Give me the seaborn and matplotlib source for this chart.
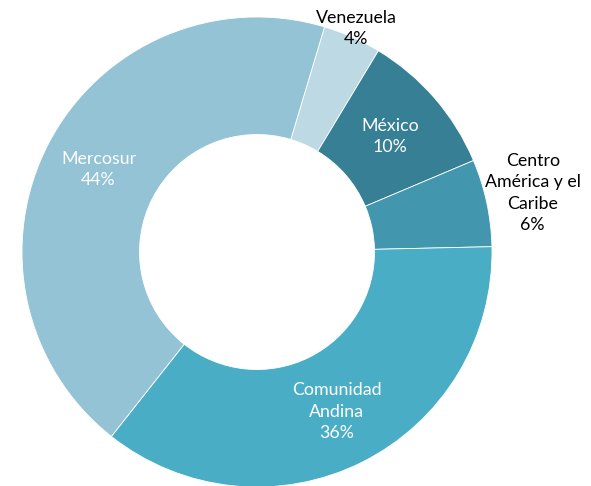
import numpy as np
import matplotlib
matplotlib.use("Agg")
import matplotlib.pyplot as plt
import seaborn as sns

# Data (clockwise from the top)
regions = ["Venezuela", "México", "Centro\nAmérica y el\nCaribe", "Comunidad\nAndina", "Mercosur"]
shares = [4, 10, 6, 36, 44]
colors = ["#BCD9E4", "#367F95", "#4297AE", "#4AADC6", "#93C3D4"]
text_colors = ["black", "white", "black", "white", "white"]
label_radius = [1.04, 0.75, 1.2, 0.76, 0.76]

sns.set_style("white")
plt.rcParams["font.family"] = ["Lato", "DejaVu Sans"]

fig = plt.figure(figsize=(5.91, 4.86), dpi=100)
ax = fig.add_axes([22 / 591, -1 / 486, 470 / 591, 470 / 486])

start = 90 - 16.7
wedges, _ = ax.pie(shares, colors=colors, startangle=start, counterclock=False,
                   wedgeprops=dict(width=0.5, edgecolor="white", linewidth=0.6))

# labels placed at each wedge's mid-angle
total = sum(shares)
cum = 0
for name, val, tc, r in zip(regions, shares, text_colors, label_radius):
    mid = np.deg2rad(start - 360 * (cum + val / 2) / total)
    cum += val
    ax.text(r * np.cos(mid), r * np.sin(mid), f"{name}\n{val}%", ha="center", va="center",
            color=tc, fontsize=12.8, linespacing=1.42)

ax.set_xlim(-1, 1)
ax.set_ylim(-1, 1)
ax.set_aspect("equal")
ax.axis("off")
fig.savefig("out.png", dpi=100)
